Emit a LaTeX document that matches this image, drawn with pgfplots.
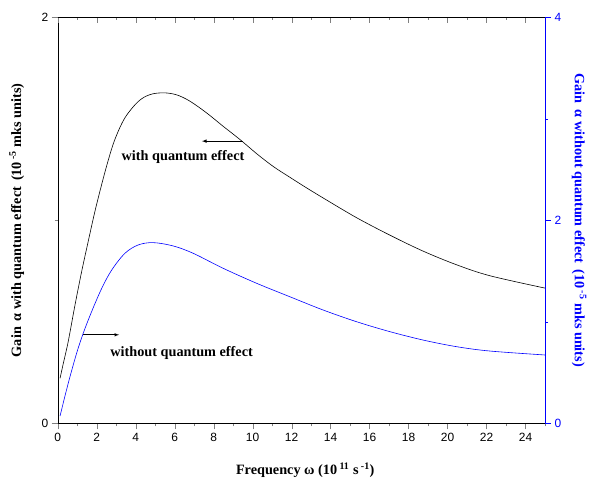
\documentclass[border=0pt]{standalone}
\usepackage{fontspec}
\setmainfont{Liberation Serif}
\setsansfont{Liberation Sans}
\usepackage{pgfplots}
\pgfplotsset{compat=1.18}
\definecolor{myblue}{RGB}{0,0,255}
\begin{document}
\begin{tikzpicture}
\pgfplotsset{
  common/.style={
    scale only axis, width=487.3bp, height=406bp,
    xmin=0, xmax=25,
    xtick={0,2,...,24}, minor xtick={1,3,...,25},
    major tick length=6bp, minor tick length=3bp,
    /pgf/number format/assume math mode=true,
    tick label style={font=\sffamily\fontsize{12}{12}\selectfont},
    label style={font=\bfseries\fontsize{14.3}{15}\selectfont},
  }
}
\begin{axis}[common,
  axis x line*=bottom, axis y line*=left,
  tick align=outside,
  ymin=0, ymax=2, ytick={0,2}, minor ytick={1},
  xlabel={Frequency ω (10\,\textsuperscript{11} s\,\textsuperscript{-1})},
  ylabel={Gain\, α with quantum effect\, (10\,\textsuperscript{-5} mks units)},
  xlabel style={at={(axis description cs:0.508,-0.115)}, anchor=center},
  ylabel style={at={(axis description cs:-0.084,0.5)}, anchor=center},
  clip=false]
\addplot[black, line width=0.6pt, smooth, tension=0.55] coordinates {
(0.12,0.222)(0.30,0.30)(0.54,0.403)(0.89,0.584)(1.23,0.748)(1.57,0.898)(1.91,1.044)(2.26,1.178)(2.6,1.298)(2.94,1.40)(3.45,1.505)(4.13,1.585)(4.73,1.619)(5.42,1.628)(6.10,1.618)(6.78,1.587)(7.64,1.529)(8.49,1.463)(9.35,1.398)(10.21,1.328)(11.06,1.265)(11.91,1.212)(12.68,1.165)(13.62,1.11)(15.33,1.013)(17.04,0.927)(18.75,0.848)(20.46,0.781)(22.17,0.727)(25,0.666)
};
\draw[-latex, line width=0.6pt] (axis cs:9.5,1.39) -- (axis cs:7.4,1.39);
\node[font=\bfseries\fontsize{14.3}{15}\selectfont] at (axis cs:6.43,1.31) {with quantum effect};
\draw[-latex, line width=0.6pt] (axis cs:1.31,0.436) -- (axis cs:3.15,0.436);
\node[font=\bfseries\fontsize{14.3}{15}\selectfont] at (axis cs:6.36,0.348) {without quantum effect};
\end{axis}
\begin{axis}[common,
  axis x line*=top, axis y line=none,
  tick align=inside, xticklabels={},
  ymin=0, ymax=2]
\end{axis}
\begin{axis}[common,
  axis x line=none, axis y line*=right,
  tick align=outside,
  ymin=0, ymax=4, ytick={0,2,4}, minor ytick={1,3},
  y axis line style={myblue, line width=0.8pt},
  y tick style={myblue},
  yticklabel style={myblue},
  ylabel={Gain\, α without quantum effect\, (10\,\textsuperscript{-5} mks units)},
  ylabel style={myblue, at={(axis description cs:1.07,0.5)}, anchor=center, rotate=180}]
\addplot[myblue, line width=0.6pt, smooth, tension=0.55] coordinates {
(0.12,0.072)(0.54,0.394)(0.97,0.69)(1.31,0.887)(1.74,1.10)(2.26,1.33)(2.77,1.51)(3.45,1.675)(4.13,1.757)(4.9,1.78)(5.93,1.747)(6.95,1.675)(8.49,1.527)(10.21,1.379)(11.91,1.247)(13.62,1.116)(15.33,1.001)(17.04,0.903)(18.75,0.82)(20.46,0.755)(22.17,0.712)(25,0.673)
};
\end{axis}
\pgfresetboundingbox
\path[use as bounding box] ([xshift=-57.7bp,yshift=-61.7bp]current axis.south west) rectangle ([xshift=45bp,yshift=17.3bp]current axis.north east);
\end{tikzpicture}
\end{document}
